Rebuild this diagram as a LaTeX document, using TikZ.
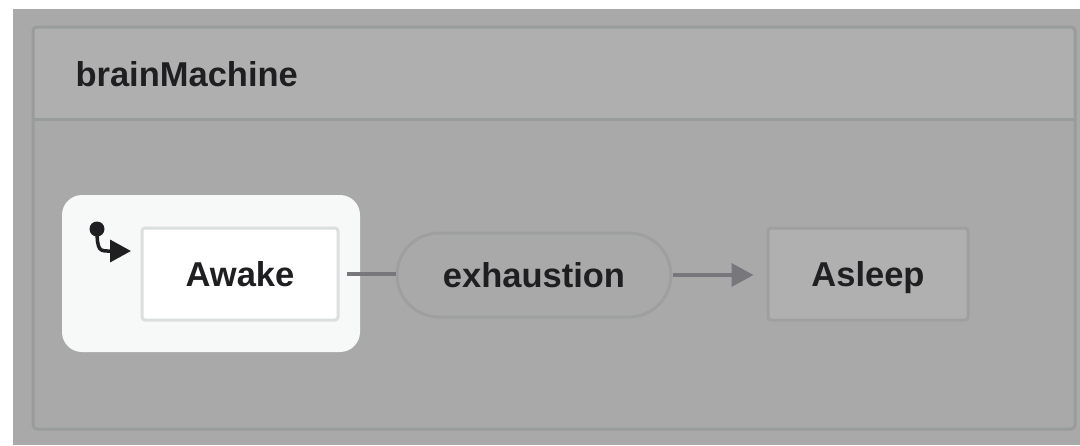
\documentclass[tikz,border=0pt]{standalone}
\usepackage{fontspec}
\setmainfont{Liberation Sans}
\usetikzlibrary{arrows.meta}
\definecolor{canvas}{HTML}{A9A9A9}
\definecolor{headerfill}{HTML}{AFAFAF}
\definecolor{frame}{HTML}{999C9C}
\definecolor{ink}{HTML}{1F1F22}
\definecolor{wire}{HTML}{77777C}
\definecolor{activefill}{HTML}{F7F8F8}
\definecolor{activeedge}{HTML}{DCDFE0}
\definecolor{nodeedge}{HTML}{9E9F9F}
\definecolor{sleepfill}{HTML}{B0B0B0}
\tikzset{
  label text/.style={font=\bfseries\fontsize{34.5}{40}\selectfont, text=ink},
  centred text/.style={label text, text height=24pt, text depth=0pt},
  statebox/.style={centred text, draw, line width=3pt, rounded corners=3pt,
    inner sep=0pt, anchor=center},
  eventpill/.style={centred text, draw=nodeedge, fill=canvas, line width=3pt,
    rounded corners=42pt, inner sep=0pt, minimum width=274pt, minimum height=84pt},
  wireline/.style={draw=wire, line width=3.5pt},
}
\begin{document}
\begin{tikzpicture}[x=1pt, y=-1pt]
  \useasboundingbox (0,0) rectangle (1080,445);
  \fill[white] (0,0) rectangle (1080,445);
  \fill[canvas] (13,9) rectangle (1080,445);

  % machine container with header band
  \fill[headerfill, rounded corners=4pt] (33,27) rectangle (1075,119);
  \draw[frame, line width=3pt] (33,119) -- (1075,119);
  \draw[frame, line width=3pt, rounded corners=4pt] (33,27) rectangle (1075,429);
  \node[label text, anchor=base west] (title) at (72,86) {brainMachine};

  % active state highlight
  \node[fill=activefill, rounded corners=20pt, minimum width=298pt,
        minimum height=157pt, inner sep=0pt] (active) at (211,273.5) {};

  % states
  \node[statebox, draw=activeedge, fill=white, minimum width=196pt,
        minimum height=92pt] (awake) at (240,274) {Awake};
  \node[eventpill] (exh) at (534,275) {exhaustion};
  \node[statebox, draw=nodeedge, fill=sleepfill, minimum width=200pt,
        minimum height=92pt] (asleep) at (868,274) {Asleep};

  % initial marker
  \node[circle, fill=ink, minimum size=15pt, inner sep=0pt] (init) at (97,229) {};
  \coordinate (entry) at (131,251);
  \draw[draw=ink, line width=3.5pt, -{Triangle[length=21pt, width=22pt]}]
    (init.center) .. controls (97,252) and (100,251) .. (entry);

  % transitions
  \draw[wireline, shorten <=7pt] (awake.east) -- (exh.west |- awake.east);
  \draw[wireline, -{Triangle[length=22pt, width=23pt]}, fill=wire,
        shorten >=13pt] (exh.east) -- (asleep.west |- exh.east);
\end{tikzpicture}
\end{document}
